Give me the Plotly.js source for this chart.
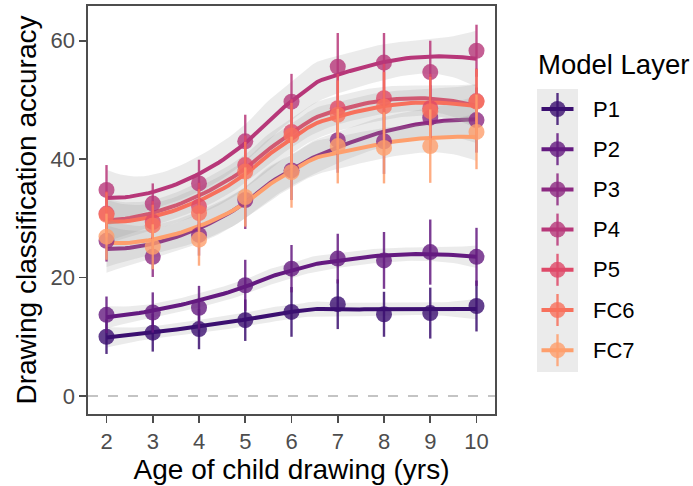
<!DOCTYPE html>
<html><head><meta charset="utf-8">
<script src="https://cdn.plot.ly/plotly-3.0.1.min.js"></script>
<style>html,body{margin:0;padding:0;background:#fff;} #chart{width:693px;height:486px;}</style>
</head><body><div id="chart"></div>
<script>
// ---- data ----
const ages = [2, 3, 4, 5, 6, 7, 8, 9, 10];
const layerNames = ['P1', 'P2', 'P3', 'P4', 'P5', 'FC6', 'FC7'];
const layerColors = ['#3B0F70', '#641A80', '#8C2981', '#B73779', '#DE4968', '#F7705C', '#FE9F6D'];

const accP1  = [10.0, 10.7, 11.3, 12.8, 14.2, 15.5, 13.8, 14.0, 15.2];
const accP2  = [13.7, 14.1, 14.9, 18.7, 21.5, 23.2, 22.9, 24.3, 23.5];
const accP3  = [26.2, 23.5, 27.2, 33.1, 38.1, 43.2, 43.0, 47.0, 46.6];
const accP4  = [34.8, 32.5, 35.9, 43.0, 49.7, 55.6, 56.3, 54.7, 58.3];
const accP5  = [30.8, 29.4, 32.0, 39.0, 44.6, 48.6, 50.3, 48.6, 49.8];
const accFC6 = [30.6, 28.8, 30.9, 37.9, 44.0, 47.5, 48.9, 48.1, 49.7];
const accFC7 = [26.9, 25.2, 26.4, 33.6, 37.8, 42.2, 41.9, 42.2, 44.6];

const errP1  = [2.9, 3.2, 3.4, 3.5, 4.2, 4.2, 3.8, 4.3, 4.3];
const errP2  = [3.1, 3.4, 3.7, 4.3, 4.0, 4.2, 4.8, 5.5, 4.9];
const errP3  = [3.5, 3.4, 3.5, 4.9, 5.0, 5.5, 5.5, 5.5, 5.5];
const errP4  = [4.2, 3.4, 4.0, 4.5, 4.7, 5.7, 5.0, 5.3, 4.4];
const errP5  = [3.8, 3.5, 4.0, 5.0, 5.5, 5.8, 5.8, 5.8, 5.5];
const errFC6 = [3.8, 3.5, 4.0, 5.0, 5.5, 5.8, 5.8, 5.8, 5.5];
const errFC7 = [3.9, 3.8, 4.4, 5.0, 6.0, 6.3, 6.0, 6.2, 6.3];

const yTicks = [0, 20, 40, 60];
const xTicks = ages;

const accAll = [accP1, accP2, accP3, accP4, accP5, accFC6, accFC7];
const errAll = [errP1, errP2, errP3, errP4, errP5, errFC6, errFC7];

// ---- loess smoother (degree 2) with 95% band, like geom_smooth ----
const SPAN = 0.85;
function loessVec(xs, x0, span) {
  const n = xs.length, q = Math.ceil(n * span);
  const d = xs.map(x => Math.abs(x - x0));
  const h = d.slice().sort((a, b) => a - b)[q - 1];
  const w = d.map(di => { const u = di / h; return u < 1 ? Math.pow(1 - u * u * u, 3) : 0; });
  const A = [[0,0,0],[0,0,0],[0,0,0]];
  const R = xs.map(x => { const dx = x - x0; return [1, dx, dx * dx]; });
  for (let i = 0; i < n; i++) for (let a = 0; a < 3; a++) for (let b = 0; b < 3; b++) A[a][b] += w[i] * R[i][a] * R[i][b];
  const inv = inv3(A);
  return R.map((r, i) => w[i] * (inv[0][0] * r[0] + inv[0][1] * r[1] + inv[0][2] * r[2]));
}
function inv3(m) {
  const [a,b,c] = m[0], [d,e,f] = m[1], [g,h,i] = m[2];
  const A = e*i - f*h, B = -(d*i - f*g), C = d*h - e*g;
  const det = a*A + b*B + c*C;
  return [[A/det, -(b*i - c*h)/det, (b*f - c*e)/det],
          [B/det, (a*i - c*g)/det, -(a*f - c*d)/det],
          [C/det, -(a*h - b*g)/det, (a*e - b*d)/det]];
}
function tq975(df) {
  const z = 1.959964, z3 = z*z*z, z5 = z3*z*z, z7 = z5*z*z, z9 = z7*z*z;
  return z + (z3 + z) / (4*df) + (5*z5 + 16*z3 + 3*z) / (96*df*df)
    + (3*z7 + 19*z5 + 17*z3 - 15*z) / (384*df*df*df)
    + (79*z9 + 776*z7 + 1482*z5 - 1920*z3 - 945*z) / (92160*Math.pow(df, 4));
}
function smooth(xs, ys) {
  const n = xs.length, span = SPAN;
  const L = xs.map(x => loessVec(xs, x, span));
  const fitted = L.map(l => l.reduce((s, v, i) => s + v * ys[i], 0));
  const IL = L.map((row, j) => row.map((v, i) => (i === j ? 1 : 0) - v));
  const M = [];
  for (let a = 0; a < n; a++) { M.push([]); for (let b = 0; b < n; b++) { let s = 0; for (let k = 0; k < n; k++) s += IL[k][a] * IL[k][b]; M[a].push(s); } }
  let d1 = 0, d2 = 0;
  for (let a = 0; a < n; a++) { d1 += M[a][a]; for (let b = 0; b < n; b++) d2 += M[a][b] * M[a][b]; }
  const rss = ys.reduce((s, y, i) => s + (y - fitted[i]) ** 2, 0);
  const sig = Math.sqrt(rss / d1), tq = tq975(d1 * d1 / d2);
  const gx = [], fit = [], lo = [], hi = [];
  const xmin = Math.min(...xs), xmax = Math.max(...xs), m = 80;
  for (let k = 0; k < m; k++) {
    const x0 = xmin + (xmax - xmin) * k / (m - 1);
    const l = loessVec(xs, x0, span);
    const f = l.reduce((s, v, i) => s + v * ys[i], 0);
    const se = sig * Math.sqrt(l.reduce((s, v) => s + v * v, 0));
    gx.push(x0); fit.push(f); lo.push(f - tq * se); hi.push(f + tq * se);
  }
  return { gx, fit, lo, hi };
}
function rgba(hex, a) {
  const r = parseInt(hex.slice(1,3),16), g = parseInt(hex.slice(3,5),16), b = parseInt(hex.slice(5,7),16);
  return `rgba(${r},${g},${b},${a})`;
}

const traces = [];
layerNames.forEach((name, k) => {
  const s = smooth(ages, accAll[k]);
  traces.push({ x: s.gx.concat(s.gx.slice().reverse()), y: s.hi.concat(s.lo.slice().reverse()),
    type: 'scatter', mode: 'lines', fill: 'toself', fillcolor: 'rgba(153,153,153,0.2)',
    line: { width: 0 }, hoverinfo: 'skip', showlegend: false });
  traces.push({ x: s.gx, y: s.fit, type: 'scatter', mode: 'lines',
    line: { color: layerColors[k], width: 4 }, showlegend: false, hoverinfo: 'skip' });
});
layerNames.forEach((name, k) => {
  traces.push({ x: ages, y: accAll[k], name, type: 'scatter', mode: 'markers',
    marker: { size: 16, color: rgba(layerColors[k], 0.8), line: { width: 0 } },
    error_y: { type: 'data', array: errAll[k], visible: true, color: rgba(layerColors[k], 0.85), thickness: 2.4, width: 0 },
    showlegend: false });
});

// ---- legend drawn in paper space ----
const L0 = 88, PW = 407, T0 = 6, PH = 408;
const px = p => (p - L0) / PW, py = p => (T0 + PH - p) / PH;
const shapes = [
  { type: 'line', xref: 'paper', x0: 0, x1: 1, yref: 'y', y0: 0, y1: 0, layer: 'below',
    line: { color: '#c4c4c4', width: 2, dash: '10px,10px' } },
  { type: 'rect', xref: 'paper', yref: 'paper', x0: px(537), x1: px(578), y0: py(89), y1: py(372),
    fillcolor: '#ebebeb', line: { width: 0 } }
];
const annotations = [
  { xref: 'paper', yref: 'paper', x: px(536), y: py(64), xanchor: 'left', yanchor: 'middle', showarrow: false,
    text: 'Model Layer', font: { family: 'Liberation Sans, Arial, sans-serif', size: 27.5, color: '#000' } }
];
layerNames.forEach((name, k) => {
  const cy = 109 + k * 40.2, cx = 557.5;
  shapes.push({ type: 'line', xref: 'paper', yref: 'paper', x0: px(541.5), x1: px(573.5), y0: py(cy), y1: py(cy),
    line: { color: layerColors[k], width: 4 } });
  shapes.push({ type: 'line', xref: 'paper', yref: 'paper', x0: px(cx), x1: px(cx), y0: py(cy - 16), y1: py(cy + 16),
    line: { color: rgba(layerColors[k], 0.85), width: 2.4 } });
  shapes.push({ type: 'circle', xref: 'paper', yref: 'paper', xsizemode: 'pixel', ysizemode: 'pixel',
    xanchor: px(cx), yanchor: py(cy), x0: -8, x1: 8, y0: -8, y1: 8,
    fillcolor: rgba(layerColors[k], 0.8), line: { width: 0 } });
  annotations.push({ xref: 'paper', yref: 'paper', x: px(591), y: py(cy), xanchor: 'left', yanchor: 'middle',
    showarrow: false, text: name, font: { family: 'Liberation Sans, Arial, sans-serif', size: 22, color: '#000' } });
});

const layout = {
  width: 693, height: 486,
  margin: { l: L0, r: 693 - L0 - PW, t: T0, b: 486 - T0 - PH },
  paper_bgcolor: '#fff', plot_bgcolor: '#fff',
  font: { family: 'Liberation Sans, Arial, sans-serif', color: '#000' },
  showlegend: false,
  xaxis: {
    range: [1.6, 10.4], tickvals: xTicks, ticktext: xTicks.map(String),
    showgrid: false, zeroline: false, showline: true, mirror: true, linecolor: '#4d4d4d', linewidth: 1.6,
    ticks: 'outside', ticklen: 7, tickwidth: 1.6, tickcolor: '#4d4d4d',
    tickfont: { size: 22, color: '#4d4d4d' },
    title: { text: 'Age of child drawing (yrs)', font: { size: 28, color: '#000' }, standoff: 6 }
  },
  yaxis: {
    range: [-3.04, 65.86], tickvals: yTicks, ticktext: yTicks.map(String),
    showgrid: false, zeroline: false, showline: true, mirror: true, linecolor: '#4d4d4d', linewidth: 1.6,
    ticks: 'outside', ticklen: 7, tickwidth: 1.6, tickcolor: '#4d4d4d',
    tickfont: { size: 22, color: '#4d4d4d' },
    title: { text: 'Drawing classification accuracy', font: { size: 28, color: '#000' }, standoff: 6 }
  },
  shapes, annotations
};
Plotly.newPlot('chart', traces, layout, { staticPlot: true, displayModeBar: false });
</script>
</body></html>
